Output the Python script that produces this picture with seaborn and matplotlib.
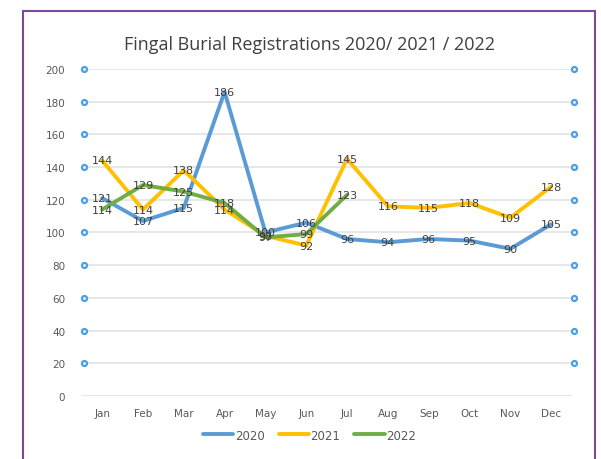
import pandas as pd
import matplotlib.pyplot as plt
import seaborn as sns
from matplotlib.patches import Rectangle

# --- Dados ---
months = ["Jan", "Feb", "Mar", "Apr", "May", "Jun",
          "Jul", "Aug", "Sep", "Oct", "Nov", "Dec"]
y2020 = [121, 107, 115, 186, 100, 106, 96, 94, 96, 95, 90, 105]
y2021 = [144, 114, 138, 114, 98, 92, 145, 116, 115, 118, 109, 128]
y2022 = [114, 129, 125, 118, 97, 99, 123]
series_names = ["2020", "2021", "2022"]
colors = ["#5B9BD5", "#FFC000", "#70AD47"]
y_ticks = [0, 20, 40, 60, 80, 100, 120, 140, 160, 180, 200]

rows = []
for name, vals in zip(series_names, [y2020, y2021, y2022]):
    for i, v in enumerate(vals):
        rows.append({"month": months[i], "pos": i, "value": v, "year": name})
df = pd.DataFrame(rows)

sns.set_style("white")
plt.rcParams['font.family'] = ['DejaVu Sans']

fig = plt.figure(figsize=(6.01, 4.60), dpi=100)
ax = fig.add_axes([0.136, 0.137, 0.815, 0.711])

sns.lineplot(data=df, x="pos", y="value", hue="year", palette=colors,
             linewidth=2.8, ax=ax, legend=False, sort=False)

# rótulos de dados centrados nos pontos
for _, r in df.iterrows():
    ax.text(r["pos"], r["value"], str(r["value"]), ha="center", va="center",
            fontsize=8, color="#404040")

ax.set_xlim(-0.5, 11.5)
ax.set_ylim(0, 200)
ax.set_yticks(y_ticks)
ax.set_xticks(range(len(months)))
ax.set_xticklabels(months)
ax.tick_params(axis="both", length=0, labelsize=7.5, labelcolor="#595959")
ax.tick_params(axis="x", pad=9)
ax.tick_params(axis="y", pad=12)
ax.set_xlabel("")
ax.set_ylabel("")
ax.yaxis.grid(True, color="#E3E3E3", linewidth=1.2)
ax.set_axisbelow(True)
for s in ax.spines.values():
    s.set_visible(False)

# marcadores circulares dos dois lados (eixo secundário)
marker_y = y_ticks[1:]
ax.scatter([-0.44] * len(marker_y), marker_y, s=13, facecolors="white",
           edgecolors="#4A9FE8", linewidths=1.6, clip_on=False, zorder=5)
ax.scatter([11.55] * len(marker_y), marker_y, s=13, facecolors="white",
           edgecolors="#4A9FE8", linewidths=1.6, clip_on=False, zorder=5)

# legenda
handles = [plt.Line2D([0], [0], color=c, linewidth=2.8) for c in colors]
fig.legend(handles, series_names, loc="center", bbox_to_anchor=(0.515, 0.052),
           ncol=3, frameon=False, fontsize=8.5, handlelength=2.6,
           handletextpad=0.1, columnspacing=1.2, labelcolor="#595959")

fig.text(0.515, 0.902, "Fingal Burial Registrations 2020/ 2021 / 2022",
         ha="center", va="center", fontsize=13, color="#404040",
         family=['Open Sans', 'DejaVu Sans'])

# moldura roxa
fig.patches.append(Rectangle((23 / 601, -0.1), 572 / 601, 1.1 - 12 / 460,
                             transform=fig.transFigure, fill=False,
                             edgecolor="#7B4A9A", linewidth=1.5))

fig.savefig("out.png", dpi=100)
